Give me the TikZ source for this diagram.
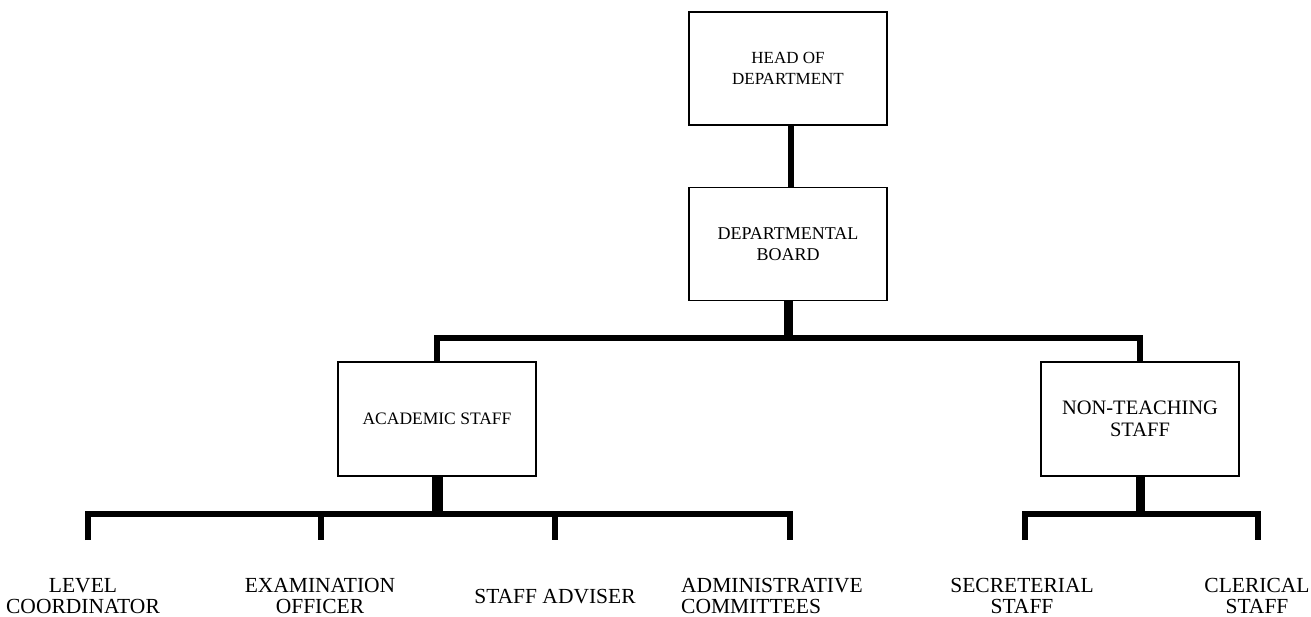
\documentclass[tikz,border=0pt]{standalone}
\usepackage{fontspec}
\setmainfont{Liberation Serif}
\begin{document}
\begin{tikzpicture}[x=1pt,y=-1pt,
  box/.style={draw, line width=1.5pt, minimum width=198pt, minimum height=113pt, align=center, inner sep=0pt},
  lab/.style={align=center, inner sep=0pt, anchor=south, font=\fontsize{21.5}{21}\selectfont},
  thin conn/.style={line width=6pt},
  thick conn/.style={line width=9pt}]
\useasboundingbox (0,0) rectangle (1311,616);
% boxes
\node[box, font=\fontsize{17}{20.5}\selectfont] (H) at (788,68.5) {HEAD OF\\DEPARTMENT};
\node[box, font=\fontsize{18}{21}\selectfont] (B) at (788,244) {DEPARTMENTAL\\BOARD};
\node[box, minimum height=114pt, font=\fontsize{17.5}{21}\selectfont] (A) at (437,419) {ACADEMIC STAFF};
\node[box, minimum height=114pt, font=\fontsize{20.5}{21.5}\selectfont] (N) at (1140,419) {NON-TEACHING\\STAFF};
% labels
\node[lab] (L1) at (83,614) {LEVEL\\COORDINATOR};
\node[lab] (L2) at (320,614) {EXAMINATION\\OFFICER};
\node[lab] (L3) at (555,604) {STAFF ADVISER};
\node[lab, align=left, anchor=south west] (L4) at (681,614) {ADMINISTRATIVE\\COMMITTEES};
\node[lab] (L5) at (1022,614) {SECRETERIAL\\STAFF};
\node[lab] (L6) at (1257,614) {CLERICAL\\STAFF};
% reference coordinates
\coordinate (bar1) at (0,338);
\coordinate (bar1b) at (0,341);
\coordinate (bar2) at (0,514);
\coordinate (bar2b) at (0,517);
\coordinate (s1) at (88,540);
\coordinate (s2) at (321,540);
\coordinate (s3) at (555,540);
\coordinate (s4) at (790,540);
\coordinate (t1) at (1025,540);
\coordinate (t2) at (1258,540);
% connectors
\draw[thin conn] ([xshift=3pt]H.south) -- ([xshift=3pt]B.north);
\draw[thick conn] (B.south) -- (B.south |- bar1b);
\draw[thin conn] (A.north) |- (N.north |- bar1) -- (N.north);
\draw[line width=11pt] (A.south) -- (A.south |- bar2b);
\draw[thin conn] (s1) |- (s4 |- bar2) -- (s4);
\draw[thin conn] (s2 |- bar2) -- (s2);
\draw[thin conn] (s3 |- bar2) -- (s3);
\draw[thick conn] (N.south) -- (N.south |- bar2b);
\draw[thin conn] (t1) |- (t2 |- bar2) -- (t2);
\end{tikzpicture}
\end{document}
